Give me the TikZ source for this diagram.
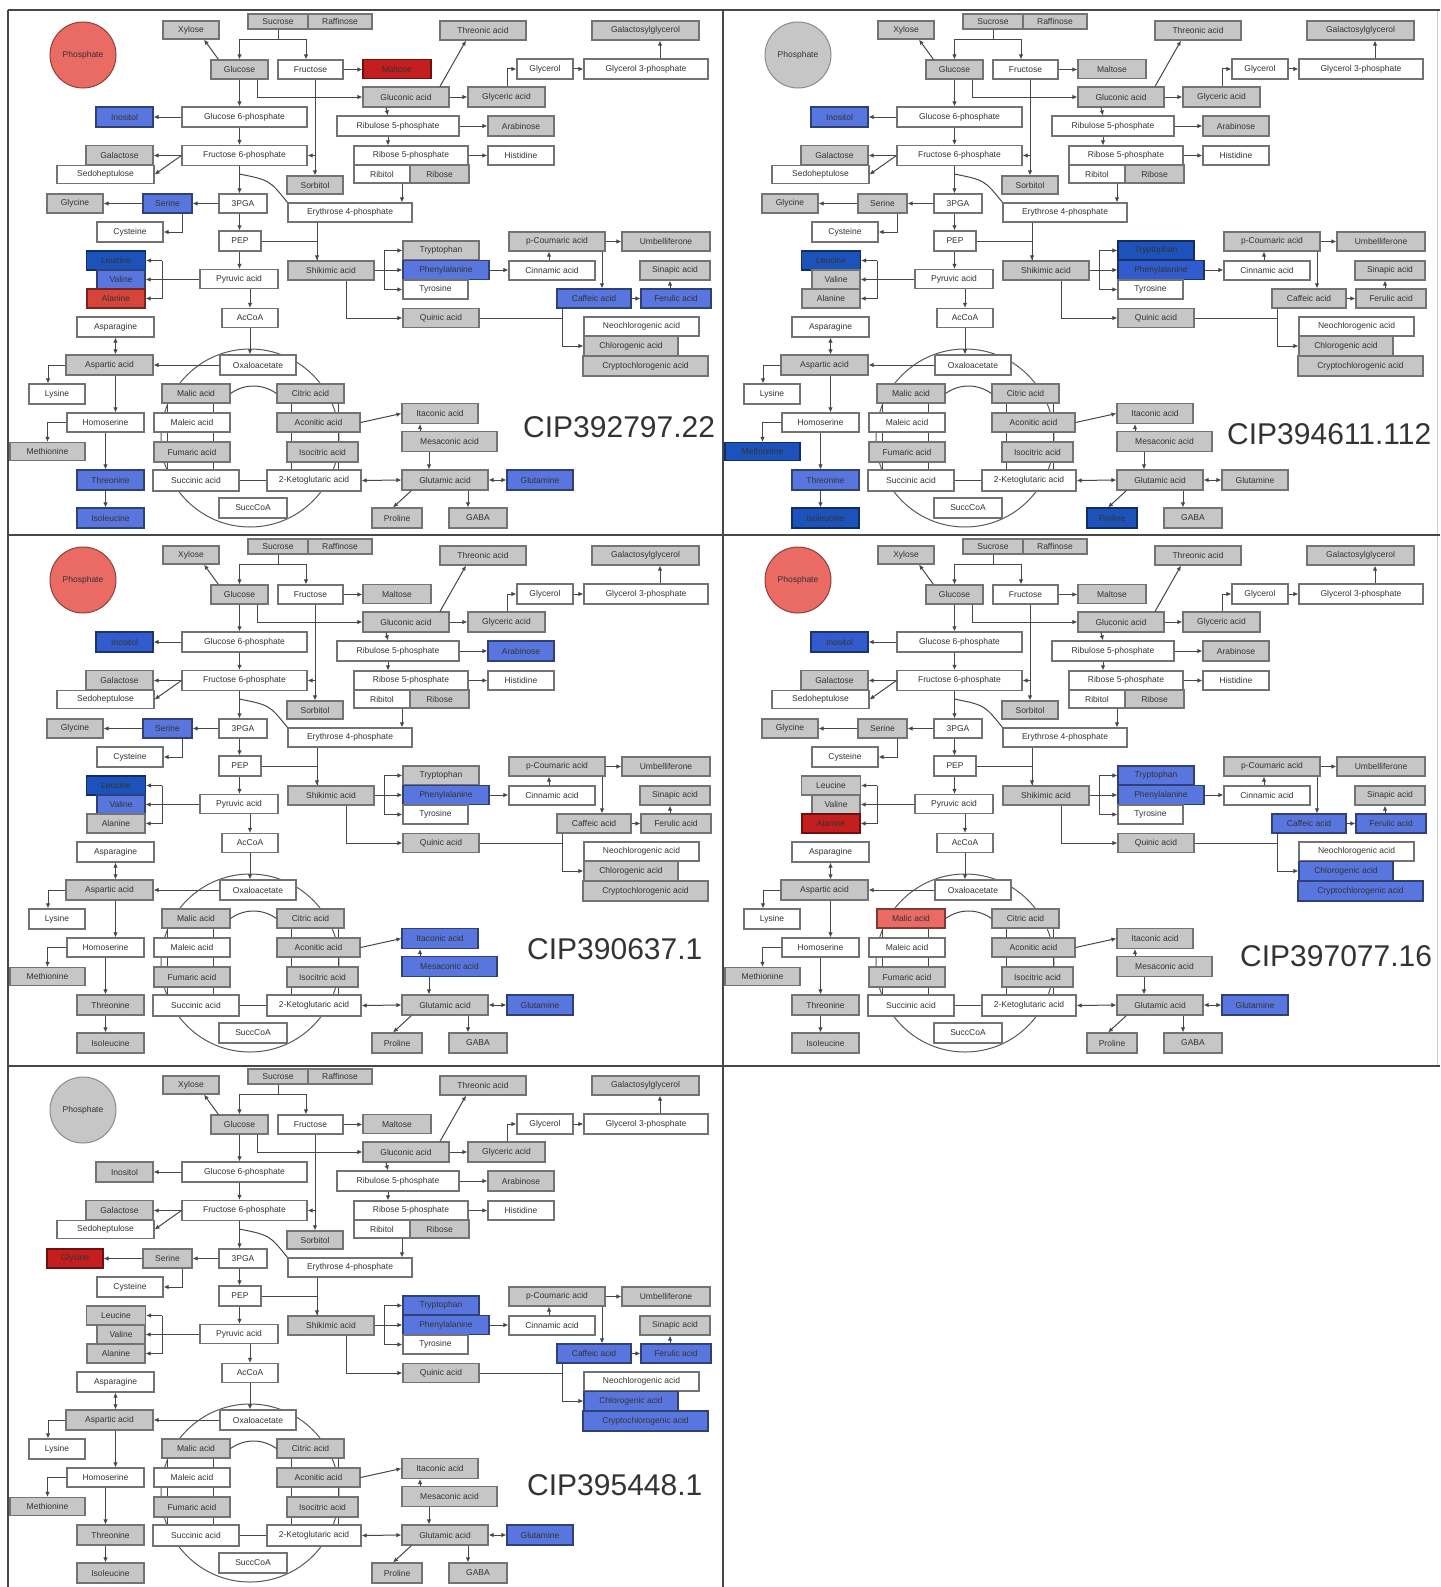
\documentclass[tikz,border=0pt]{standalone}
\usepackage{fontspec}
\setmainfont{Liberation Sans}
\usetikzlibrary{arrows.meta,calc}
\definecolor{cgray}{RGB}{198,198,198}
\definecolor{cblue}{RGB}{88,118,222}
\definecolor{cmblue}{RGB}{50,92,205}
\definecolor{cdblue}{RGB}{28,82,185}
\definecolor{clred}{RGB}{234,106,100}
\definecolor{cred}{RGB}{214,68,58}
\definecolor{cdred}{RGB}{196,30,30}
\newcommand\bxfont{\fontsize{8.5}{9}\selectfont}
\newcommand\mb[7]{\node[box,#2box,s-#1/.try,minimum width=#5,minimum height=#6] (#1) at (#3,#4) {#7};}
\newcommand\panelcontent{%
 \draw[ring] (250,438) circle[radius=89];
 \mb{Xyl}{g}{191}{30}{56}{18}{Xylose}
 \mb{Suc}{g}{278}{21.5}{60}{15}{Sucrose}
 \mb{Raf}{g}{340}{21.5}{64}{15}{Raffinose}
 \mb{Glc}{g}{239.5}{69.5}{57}{19}{Glucose}
 \mb{Fru}{w}{310.5}{69.5}{65}{19}{Fructose}
 \mb{Mal}{g}{397}{69}{68}{19}{Maltose}
 \mb{Thr}{g}{483}{30.5}{86}{19}{Threonic acid}
 \mb{GalG}{g}{645.5}{30.5}{107}{19}{Galactosylglycerol}
 \mb{Glyc}{w}{545}{69}{56}{20}{Glycerol}
 \mb{GtP}{w}{646}{69}{124}{20}{Glycerol 3-phosphate}
 \mb{Glcn}{g}{406}{97}{86}{20}{Gluconic acid}
 \mb{Glya}{g}{506.5}{97}{77}{20}{Glyceric acid}
 \mb{RuP}{w}{398}{126}{122}{20}{Ribulose 5-phosphate}
 \mb{Ara}{g}{521}{126}{66}{20}{Arabinose}
 \mb{RP}{w}{411}{155.5}{114}{19}{Ribose 5-phosphate}
 \mb{His}{w}{521}{155.5}{66}{19}{Histidine}
 \mb{Rbt}{w}{382}{174}{56}{18}{Ribitol}
 \mb{Rib}{g}{439.5}{174}{59}{18}{Ribose}
 \mb{GsP}{w}{244.5}{117}{125}{20}{Glucose 6-phosphate}
 \mb{Ino}{g}{124.5}{117}{57}{20}{Inositol}
 \mb{FsP}{w}{244.5}{155.5}{125}{20}{Fructose 6-phosphate}
 \mb{Gal}{g}{119.5}{155}{67}{19}{Galactose}
 \mb{Sed}{w}{105.5}{174.5}{97}{18}{Sedoheptulose}
 \mb{Sor}{g}{315}{185}{56}{18}{Sorbitol}
 \mb{PGA}{w}{243}{203.5}{48}{19}{3PGA}
 \mb{Ser}{g}{167.5}{203.5}{49}{19}{Serine}
 \mb{Gly}{g}{75}{203.5}{56}{19}{Glycine}
 \mb{Cys}{w}{130}{232}{66}{20}{Cysteine}
 \mb{EP}{w}{350}{212.5}{124}{19}{Erythrose 4-phosphate}
 \mb{PEP}{w}{240}{241}{42}{20}{PEP}
 \mb{Shk}{g}{331}{270.5}{86}{19}{Shikimic acid}
 \mb{Pyr}{w}{239}{279}{78}{19}{Pyruvic acid}
 \mb{Leu}{g}{116}{260.5}{59}{19}{Leucine}
 \mb{Val}{g}{121}{279.5}{48}{19}{Valine}
 \mb{Ala}{g}{116}{298.5}{58}{19}{Alanine}
 \mb{AcCoA}{w}{250}{318}{56}{19}{AcCoA}
 \mb{Asn}{w}{115.5}{327}{77}{20}{Asparagine}
 \mb{Asp}{g}{109.5}{365}{87}{20}{Aspartic acid}
 \mb{OAA}{w}{258}{365}{76}{20}{Oxaloacetate}
 \mb{Lys}{w}{57}{394}{56}{20}{Lysine}
 \mb{Mla}{g}{196}{393.5}{68}{19}{Malic acid}
 \mb{Cit}{g}{310.5}{393.5}{67}{19}{Citric acid}
 \mb{Hse}{w}{105.5}{422.5}{77}{19}{Homoserine}
 \mb{Mle}{w}{192}{422.5}{76}{19}{Maleic acid}
 \mb{Aco}{g}{318.5}{422.5}{83}{19}{Aconitic acid}
 \mb{Met}{g}{47.5}{451.5}{75}{18}{Methionine}
 \mb{Fum}{g}{192}{452}{76}{20}{Fumaric acid}
 \mb{Ico}{g}{322.5}{452}{71}{20}{Isocitric acid}
 \mb{Thn}{g}{110.5}{480}{67}{20}{Threonine}
 \mb{Sca}{w}{196}{480.5}{86}{21}{Succinic acid}
 \mb{AKG}{w}{314}{480.5}{94}{21}{2-Ketoglutaric acid}
 \mb{SCoA}{w}{253}{508}{68}{20}{SuccCoA}
 \mb{Ile}{g}{110.5}{518}{67}{20}{Isoleucine}
 \mb{Trp}{g}{441}{250.5}{76}{19}{Tryptophan}
 \mb{Phe}{g}{446}{270}{86}{19}{Phenylalanine}
 \mb{Tyr}{w}{435.5}{289.5}{65}{19}{Tyrosine}
 \mb{Cin}{w}{552}{270.5}{86}{19}{Cinnamic acid}
 \mb{Cou}{g}{557}{241.5}{96}{19}{p-Coumaric acid}
 \mb{Umb}{g}{666}{241.5}{88}{19}{Umbelliferone}
 \mb{Sin}{g}{675}{270.5}{70}{19}{Sinapic acid}
 \mb{Caf}{g}{594}{298.5}{74}{19}{Caffeic acid}
 \mb{Fer}{g}{676}{298.5}{70}{19}{Ferulic acid}
 \mb{Qui}{g}{441}{318}{76}{19}{Quinic acid}
 \mb{NCh}{w}{641.5}{326.5}{115}{19}{Neochlorogenic acid}
 \mb{Chl}{g}{631}{346}{94}{19}{Chlorogenic acid}
 \mb{CCh}{g}{645.5}{366}{125}{20}{Cryptochlorogenic acid}
 \mb{Ita}{g}{440}{413.5}{76}{20}{Itaconic acid}
 \mb{Mes}{g}{449.5}{441.5}{95}{20}{Mesaconic acid}
 \mb{Glu}{g}{445}{480}{86}{20}{Glutamic acid}
 \mb{Gln}{g}{540}{480}{66}{20}{Glutamine}
 \mb{Pro}{g}{397}{518}{50}{20}{Proline}
 \mb{GABA}{g}{478}{518}{58}{20}{GABA}
 \node[pho,s-Pho/.try] (Pho) at (83,55) {Phosphate};
 % helper coordinates
 \coordinate (lxa) at (167,0); \coordinate (lxb) at (213,0);
 \coordinate (rxa) at (291,0); \coordinate (rxb) at (338,0);
 \coordinate (shkin) at ($(Shk.north)+(-14,0)$);
 \coordinate (bj) at ($(Pyr.west)+(-37,0)$);
 \coordinate (mx) at (420,0); \coordinate (gx) at (429,0); \coordinate (gbx) at (468,0);
 \coordinate (sx) at (384,0); \coordinate (qx) at (346,0); \coordinate (cfx) at (562,0);
 \coordinate (cix) at (549,0); \coordinate (ccx) at (602,0); \coordinate (fx) at (670,0);
 \coordinate (gyx) at (507,0); \coordinate (ggx) at (660,0); \coordinate (rx) at (388,0);
 \coordinate (ex) at (402,0);
 % edges
 \draw[conn,arw] (Suc.south) -- ++(0,10) -| (Glc.north);
 \draw[conn,arw] ($(Suc.south)+(0,10)$) -| ($(Fru.north)+(-4.5,0)$);
 \draw[conn,arw] ($(Glc.north west)+(8,0)$) -- ($(Xyl.south)+(13,0)$);
 \draw[conn,arw] (Fru.east) -- (Fru.east -| Mal.west);
 \draw[conn,arw] ($(Glc.south)+(17.5,0)$) |- (Glcn.west);
 \draw[conn,arw] (Glc.south) -- (Glc.south |- GsP.north);
 \draw[conn,arw] (GsP.west) -- (Ino.east);
 \draw[conn,arw] (GsP.south -| Glc.south) -- (FsP.north -| Glc.south);
 \draw[conn,arw] ($(Fru.south)+(4.5,0)$) -- (Sor.north);
 \draw[conn,arw] (FsP.east -| Sor.north) -- (FsP.east);
 \draw[conn,arw] (FsP.west) -- (FsP.west -| Gal.east);
 \draw[conn,arw] (FsP.west) -- (Sed.east);
 \draw[conn,arw] (FsP.south -| Glc.south) -- (PGA.north -| Glc.south);
 \draw[conn] ($(FsP.south -| Glc.south)+(0,8)$) .. controls ($(FsP.south -| Glc.south)+(30,14)$) .. (EP.north west);
 \draw[conn,arw] (PGA.west) -- (Ser.east);
 \draw[conn,arw] (Ser.west) -- (Gly.east);
 \draw[conn,arw] ($(Ser.south)+(14.5,0)$) |- (Cys.east);
 \draw[conn,arw] (PGA.south -| Glc.south) -- (PEP.north -| Glc.south);
 \draw[conn,arw] (PEP.east) -| (shkin);
 \draw[conn] (shkin |- EP.south) -- (shkin);
 \draw[conn,arw] (PEP.south -| Glc.south) -- (Pyr.north -| Glc.south);
 \draw[conn] (Pyr.west) -- (bj);
 \draw[conn] (bj |- Leu.east) -- (bj |- Ala.east);
 \draw[conn,arw] (bj |- Leu.east) -- (Leu.east);
 \draw[conn,arw] (bj |- Val.east) -- (Val.east);
 \draw[conn,arw] (bj |- Ala.east) -- (Ala.east);
 \draw[conn,arw] (Pyr.south -| AcCoA.south) -- (AcCoA.north);
 \draw[conn,arw] (AcCoA.south) -- (AcCoA.south |- OAA.north);
 \draw[conn,arw] (OAA.west) -- (Asp.east);
 \draw[conn,arws] (Asn.south) -- (Asn.south |- Asp.north);
 \draw[conn,arw] (Asp.west) -| ($(Lys.north)+(-9,0)$);
 \draw[conn,arw] (Asn.south |- Asp.south) -- (Asn.south |- Hse.north);
 \draw[conn,arw] (Hse.west) -| (Met.north);
 \draw[conn,arw] (Hse.south) -- (Hse.south |- Thn.north);
 \draw[conn,arw] (Hse.south |- Thn.south) -- (Hse.south |- Ile.north);
 \draw[conn] (Mla.south -| lxa) -- (Mle.north -| lxa);
 \draw[conn] (Mla.south -| lxb) -- (Mle.north -| lxb);
 \draw[conn] (Mle.south -| lxa) -- (Fum.north -| lxa);
 \draw[conn] (Mle.south -| lxb) -- (Fum.north -| lxb);
 \draw[conn] (Fum.south -| lxa) -- (Sca.north -| lxa);
 \draw[conn] (Fum.south -| lxb) -- (Sca.north -| lxb);
 \draw[conn] (Cit.south -| rxa) -- (Aco.north -| rxa);
 \draw[conn] (Cit.south -| rxb) -- (Aco.north -| rxb);
 \draw[conn] (Aco.south -| rxa) -- (Ico.north -| rxa);
 \draw[conn] (Aco.south -| rxb) -- (Ico.north -| rxb);
 \draw[conn] (Ico.south -| rxa) -- (AKG.north -| rxa);
 \draw[conn] (Ico.south -| rxb) -- (AKG.north -| rxb);
 \draw[conn] (Sca.east) -- (AKG.west);
 \draw[conn] (Mla.east) .. controls +(14,-10) and +(-14,-10) .. (Cit.west);
 \draw[conn,arw] (Aco.east) -- (Ita.west);
 \draw[conn,arw] (Mes.north -| mx) -- (Ita.south -| mx);
 \draw[conn,arw] (Mes.south -| gx) -- (Glu.north -| gx);
 \draw[conn,arws] (AKG.east) -- (Glu.west);
 \draw[conn,arws] (Glu.east) -- (Gln.west);
 \draw[conn,arw] ($(Glu.south west)+(10,0)$) -- ($(Pro.north)+(-4,0)$);
 \draw[conn,arw] (Glu.south -| gbx) -- (GABA.north -| gbx);
 \draw[conn] (Shk.east) -- (Shk.east -| sx);
 \draw[conn] (Trp.west -| sx) -- (Tyr.west -| sx);
 \draw[conn,arw] (Trp.west -| sx) -- (Trp.west);
 \draw[conn,arw] (Phe.west -| sx) -- (Phe.west);
 \draw[conn,arw] (Tyr.west -| sx) -- (Tyr.west);
 \draw[conn,arw] (Shk.south -| qx) |- (Qui.west);
 \draw[conn] (Qui.east) -- (Qui.east -| cfx);
 \draw[conn,arw] (Caf.south -| cfx) |- (Chl.west);
 \draw[conn,arw] (Phe.east) -- (Phe.east -| Cin.west);
 \draw[conn,arw] (Cin.north -| cix) -- (Cou.south -| cix);
 \draw[conn,arw] (Cou.east) -- (Umb.west);
 \draw[conn,arw] (Cou.south -| ccx) -- (Caf.north -| ccx);
 \draw[conn,arw] (Caf.east) -- (Fer.west);
 \draw[conn,arw] (Fer.north -| fx) -- (Sin.south -| fx);
 \draw[conn,arw] ($(Glcn.north)+(34,0)$) -- ($(Thr.south)+(-17,0)$);
 \draw[conn,arw] (Glcn.east) -- (Glya.west);
 \draw[conn,arw] (Glya.north -| gyx) |- (Glyc.west);
 \draw[conn,arw] (Glyc.east) -- (GtP.west);
 \draw[conn,arw] (GtP.north -| ggx) -- (GalG.south -| ggx);
 \draw[conn,arw] ($(Glcn.south)+(-20,0)$) -- ($(RuP.north)+(-10,0)$);
 \draw[conn,arw] (RuP.south -| rx) -- (RP.north -| rx);
 \draw[conn,arw] (RuP.east) -- (Ara.west);
 \draw[conn,arw] (RP.east) -- (His.west);
 \draw[conn,arw] (Rbt.south -| ex) -- (EP.north -| ex);
}
\begin{document}
\begin{tikzpicture}[x=1pt,y=-1pt,
  box/.style={draw=black!55,line width=1.1pt,inner sep=0pt,font=\bxfont,text=black!80},
  gbox/.style={fill=cgray},
  wbox/.style={fill=white},
  bluebox/.style={fill=cblue,draw=cblue!55!black},
  mbluebox/.style={fill=cmblue,draw=cmblue!55!black},
  dbluebox/.style={fill=cdblue,draw=cdblue!55!black},
  redbox/.style={fill=cred,draw=cred!55!black},
  lredbox/.style={fill=clred,draw=clred!55!black},
  dredbox/.style={fill=cdred,draw=cdred!55!black},
  pho/.style={circle,draw=black!45,line width=1pt,fill=cgray,minimum size=66,inner sep=0pt,font=\bxfont,text=black!80},
  conn/.style={draw=black!72,line width=1pt},
  arw/.style={-{Latex[length=5pt,width=4.5pt]}},
  arws/.style={{Latex[length=5pt,width=4.5pt]}-{Latex[length=5pt,width=4.5pt]}},
  ring/.style={draw=black!65,line width=1pt},
  cip/.style={font=\fontsize{30}{34}\selectfont,text=black!80,inner sep=0pt},
  frame/.style={draw=black!72,line width=2.5pt}]
\useasboundingbox (0,0) rectangle (1440,1587);
\fill[white] (0,0) rectangle (1440,1587);
% Panel 1
\begin{scope}[name prefix=a-,
  s-Pho/.style={fill=clred,draw=clred!60!black},
  s-Mal/.style=dredbox, s-Ino/.style=bluebox, s-Ser/.style=bluebox,
  s-Leu/.style=dbluebox, s-Val/.style=bluebox, s-Ala/.style=redbox,
  s-Phe/.style=bluebox, s-Caf/.style=bluebox, s-Fer/.style=bluebox,
  s-Thn/.style=bluebox, s-Ile/.style=bluebox, s-Gln/.style=bluebox]
\panelcontent
\node[cip,anchor=base west] (lab) at (523,437) {CIP392797.22};
\end{scope}
% Panel 2
\begin{scope}[shift={(715,0)},name prefix=b-,
  s-Ino/.style=bluebox, s-Leu/.style=dbluebox, s-Trp/.style=dbluebox,
  s-Phe/.style=mbluebox, s-Met/.style=dbluebox, s-Thn/.style=bluebox,
  s-Ile/.style=dbluebox, s-Pro/.style=dbluebox]
\panelcontent
\node[cip,anchor=base west] (lab) at (512,444) {CIP394611.112};
\end{scope}
% Panel 3
\begin{scope}[shift={(0,525)},name prefix=c-,
  s-Pho/.style={fill=clred,draw=clred!60!black},
  s-Ino/.style=mbluebox, s-Ara/.style=bluebox, s-Ser/.style=bluebox,
  s-Leu/.style=dbluebox, s-Val/.style=bluebox, s-Phe/.style=bluebox,
  s-Ita/.style=bluebox, s-Mes/.style=bluebox, s-Gln/.style=bluebox]
\panelcontent
\node[cip,anchor=base west] (lab) at (527,434) {CIP390637.1};
\end{scope}
% Panel 4
\begin{scope}[shift={(715,525)},name prefix=d-,
  s-Pho/.style={fill=clred,draw=clred!60!black},
  s-Ino/.style=mbluebox, s-Ala/.style=dredbox, s-Trp/.style=bluebox,
  s-Phe/.style=bluebox, s-Caf/.style=bluebox, s-Fer/.style=bluebox,
  s-Chl/.style=bluebox, s-CCh/.style=bluebox, s-Mla/.style=lredbox,
  s-Gln/.style=bluebox]
\panelcontent
\node[cip,anchor=base west] (lab) at (525,441) {CIP397077.16};
\end{scope}
% Panel 5
\begin{scope}[shift={(0,1055)},name prefix=e-,
  s-Gly/.style=dredbox, s-Trp/.style=bluebox, s-Phe/.style=bluebox,
  s-Caf/.style=bluebox, s-Fer/.style=bluebox, s-Chl/.style=bluebox,
  s-CCh/.style=bluebox, s-Gln/.style=bluebox]
\panelcontent
\node[cip,anchor=base west] (lab) at (527,440) {CIP395448.1};
\end{scope}
% frame
\draw[draw=black!20,line width=1pt] (1437,10) -- (1437,1066);
\draw[frame] (8,10) -- (1440,10);
\draw[frame] (8,535) -- (1440,535);
\draw[frame] (8,1066) -- (1440,1066);
\draw[frame] (8,10) -- (8,1587);
\draw[frame] (723,10) -- (723,1587);
\end{tikzpicture}
\end{document}
